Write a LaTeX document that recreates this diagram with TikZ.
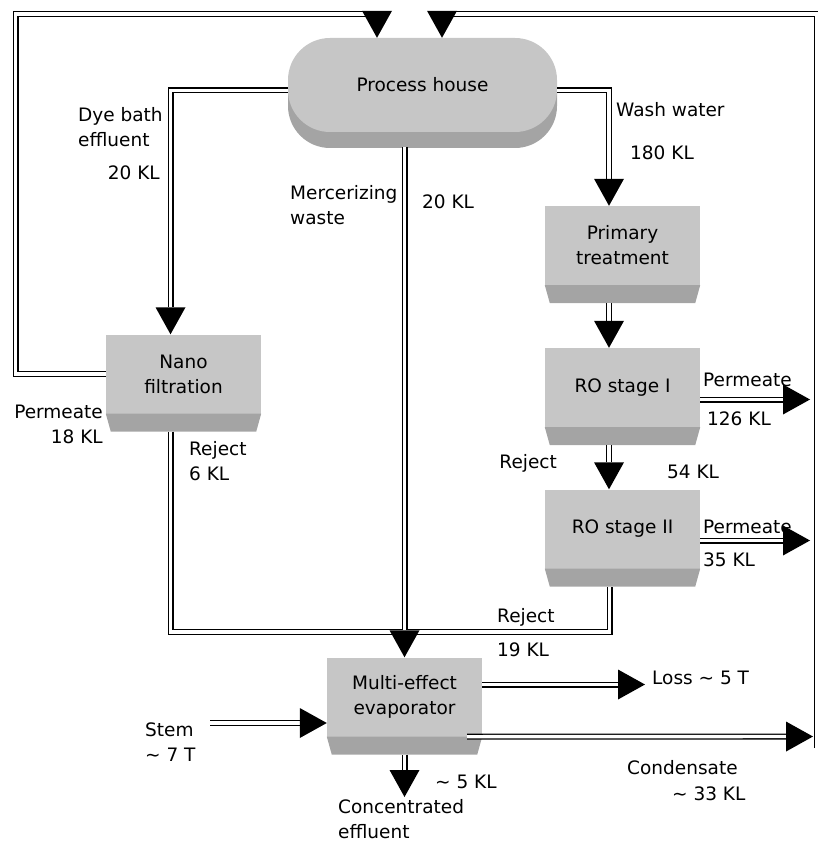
\documentclass[tikz,border=0pt]{standalone}
\usepackage{fontspec}
\setmainfont{DejaVu Sans}
\usetikzlibrary{arrows.meta}
\definecolor{boxgray}{RGB}{198,198,198}
\definecolor{bandgray}{RGB}{164,164,164}

\begin{document}
\begin{tikzpicture}[
		x=1pt, y=-1pt,
		font=\fontsize{18.5}{25}\selectfont,
		flow/.style = {draw=black, double=white, double distance=3.4pt, line width=1.3pt},
		arr/.style = {flow, -{Triangle[length=27pt,width=30pt,line width=0pt]}},
		unit/.style = {rectangle, fill=boxgray, minimum width=155pt,
			minimum height=79pt, inner sep=0pt, align=center},
		lbl/.style = {inner sep=0pt, anchor=#1, align=left},
		lbl/.default = west
		]
		\useasboundingbox (0,0) rectangle (817,842);
		% process house with its darker rim
		\fill[bandgray, rounded corners=42pt] (288,50) rectangle (557,148);
		\node (house) [unit, minimum width=269pt, minimum height=94pt, rounded corners=42pt] at (422.5,85) {Process house};
		\node (prim) [unit] at (622.5,245.5) {Primary\\treatment};
		\node (nano) [unit] at (183.5,374) {Nano\\filtration};
		\node (ro1) [unit] at (622.5,387.5) {RO stage I};
		\node (ro2) [unit] at (622.5,529) {RO stage II};
		\node (mee) [unit] at (404.5,697) {Multi-effect\\evaporator};
		\foreach \n in {prim,nano,ro1,ro2,mee} {
			\fill[bandgray] (\n.south west) -- (\n.south east) -- ([xshift=-5pt,yshift=-18pt]\n.south east) -- ([xshift=5pt,yshift=-18pt]\n.south west) -- cycle;
			\coordinate (\n-b) at ([yshift=-18pt]\n.south);
		}
		\coordinate (house-b) at (422.5,147);
		% free ends and corners
		\coordinate (tl) at (15.5,14);
		\coordinate (tr) at (816.5,14);
		\coordinate (rb) at (816.5,748);
		\coordinate (bl) at (170.5,632);
		\coordinate (br) at (609.5,632);
		\coordinate (p1) at (810,399.5);
		\coordinate (p2) at (810,540.5);
		\coordinate (loss) at (645,684.5);
		\coordinate (cond) at (813,736.5);
		\coordinate (stem) at (210,723);
		\coordinate (conc) at (403.5,797);
		% flows
		\draw[arr] (nano.west) -| (tl) -| ([xshift=-45.5pt]house.north);
		\draw[arr] (rb) -- (tr) -| ([xshift=19.5pt]house.north);
		\draw[arr] ([yshift=-5.5pt]house.west) -| ([xshift=-13pt]nano.north);
		\draw[arr] ([yshift=-5.5pt]house.east) -| ([xshift=-13.5pt]prim.north);
		\foreach \from/\to in {prim-b/ro1.north, ro1-b/ro2.north}
		\draw[arr] ([xshift=-13.5pt]\from) -- ([xshift=-13.5pt]\to);
		\draw[flow] ([xshift=-13pt]nano-b) -- (bl) -- (br) -- ([xshift=-13pt]ro2-b);
		\draw[arr] (mee.north |- house-b) -- (mee.north);
		\draw[arr] (ro1.east |- p1) -- (p1);
		\draw[arr] (ro2.east |- p2) -- (p2);
		\draw[arr] (mee.east |- loss) -- (loss);
		\draw[arr] ([xshift=-15pt]mee.south east) -- (cond);
		\draw[arr] (stem) -- (stem -| mee.west);
		\draw[arr] (mee-b) -- (mee-b |- conc);
		% labels
		\node (l-dye) [lbl] at (78,127.5) {Dye bath\\effluent};
		\node (l-dye-q) [lbl=east] at (160,173) {20 KL};
		\node (l-merc) [lbl] at (290,205.5) {Mercerizing\\waste};
		\node (l-merc-q) [lbl] at (422,202) {20 KL};
		\node (l-wash) [lbl] at (616,110) {Wash water};
		\node (l-wash-q) [lbl] at (630,153) {180 KL};
		\node (l-nperm) [lbl=east, align=right] at (103,424) {Permeate\\18 KL};
		\node (l-nrej) [lbl] at (189,461) {Reject\\6 KL};
		\node (l-perm1) [lbl] at (703,380) {Permeate};
		\node (l-perm1-q) [lbl] at (707,419) {126 KL};
		\node (l-rej1) [lbl=east] at (557,463) {Reject};
		\node (l-rej1-q) [lbl] at (667,472) {54 KL};
		\node (l-perm2) [lbl] at (703,527) {Permeate};
		\node (l-perm2-q) [lbl] at (703,560) {35 KL};
		\node (l-rej2) [lbl] at (497,617) {Reject};
		\node (l-rej2-q) [lbl] at (497,650) {19 KL};
		\node (l-loss) [lbl] at (652,678) {Loss ∼ 5 T};
		\node (l-stem) [lbl] at (145,742) {Stem\\∼ 7 T};
		\node (l-conc-q) [lbl] at (435,782) {∼ 5 KL};
		\node (l-conc) [lbl] at (338,819.5) {Concentrated\\effluent};
		\node (l-cond) [lbl] at (627,768) {Condensate};
		\node (l-cond-q) [lbl] at (672,794) {∼ 33 KL};
	\end{tikzpicture}
\end{document}
